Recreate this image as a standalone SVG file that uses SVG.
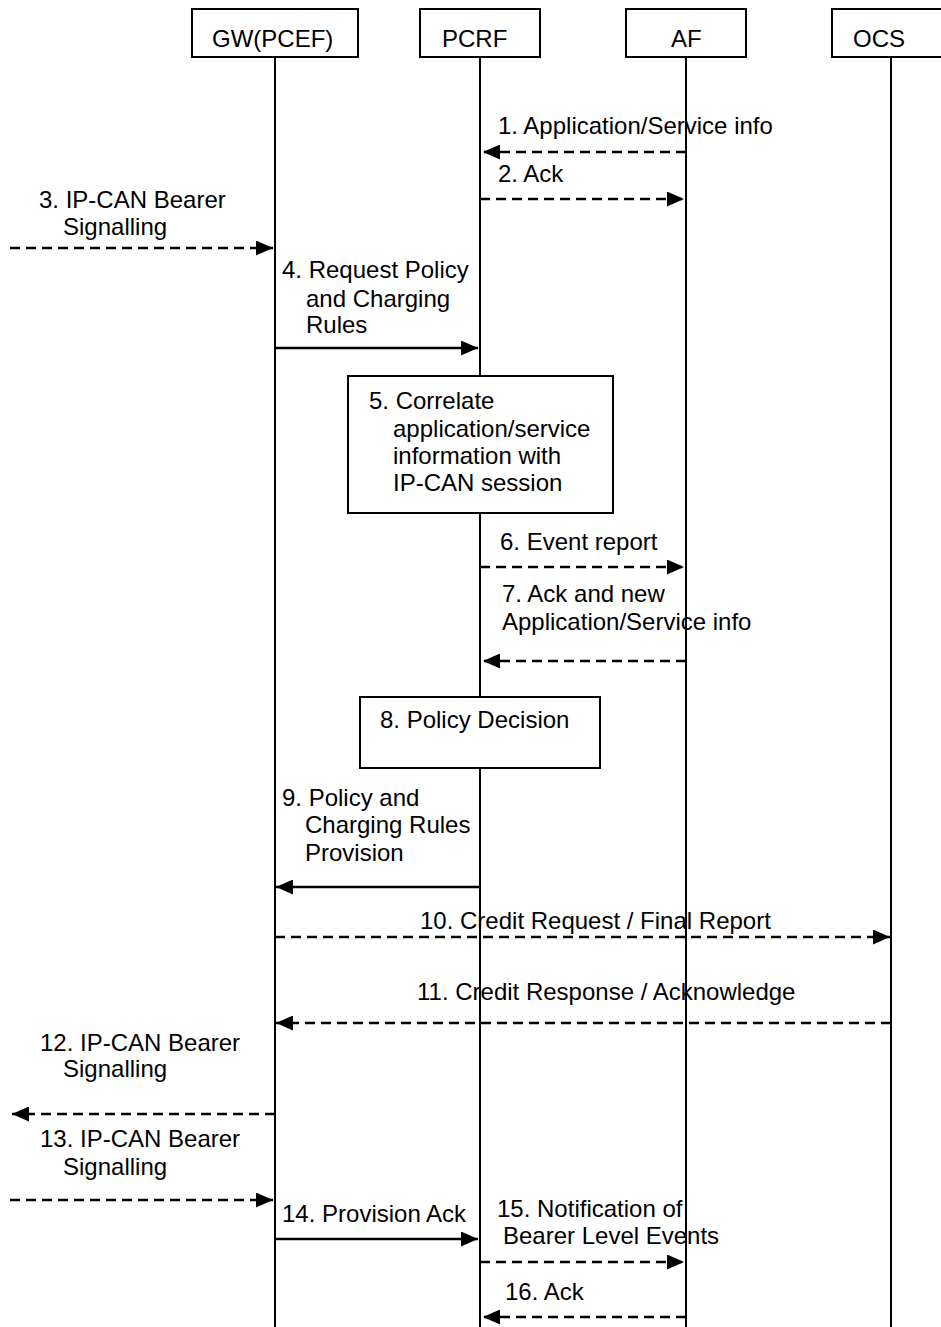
<svg xmlns="http://www.w3.org/2000/svg" width="941" height="1327" viewBox="0 0 941 1327">
<style>
text{font-family:"Liberation Sans",Arial,sans-serif;font-size:24px;fill:#000}
.box{fill:#fff;stroke:#000;stroke-width:2}
.life{stroke:#000;stroke-width:2;fill:none}
.msg{stroke:#000;stroke-width:2.5;fill:none;marker-end:url(#ah)}
.dash{stroke-dasharray:10,6}
</style>
<defs>
<marker id="ah" markerUnits="userSpaceOnUse" viewBox="0 0 17 15" refX="17" refY="7.5" markerWidth="17" markerHeight="15" orient="auto">
<path d="M0,0 L17,7.5 L0,15 z" fill="#000"/>
</marker>
</defs>
<rect width="941" height="1327" fill="#fff"/>
<g id="lifelines">
<line class="life" x1="275" y1="57" x2="275" y2="1327"/>
<line class="life" x1="480" y1="57" x2="480" y2="1327"/>
<line class="life" x1="686" y1="57" x2="686" y2="1327"/>
<line class="life" x1="891" y1="57" x2="891" y2="1327"/>
</g>
<g id="gw"><rect class="box" x="192" y="9" width="166" height="48"/><text x="212" y="47">GW(PCEF)</text></g>
<g id="pcrf"><rect class="box" x="420" y="9" width="120" height="48"/><text x="442" y="47">PCRF</text></g>
<g id="af"><rect class="box" x="626" y="9" width="120" height="48"/><text x="671" y="47">AF</text></g>
<g id="ocs"><rect class="box" x="832" y="9" width="120" height="48"/><text x="853" y="47">OCS</text></g>
<g id="step5"><rect class="box" x="348" y="376" width="265" height="137"/>
<text x="369" y="409">5. Correlate</text><text x="393" y="437">application/service</text><text x="393" y="464">information with</text><text x="393" y="491">IP-CAN session</text></g>
<g id="step8"><rect class="box" x="360" y="697" width="240" height="71"/><text x="380" y="728">8. Policy Decision</text></g>
<g id="connectors">
<line class="msg dash" x1="686" y1="152" x2="483" y2="152"/>
<line class="msg dash" x1="480" y1="199" x2="684" y2="199"/>
<line class="msg dash" x1="10" y1="248" x2="273" y2="248"/>
<line class="msg" x1="275" y1="348" x2="478" y2="348"/>
<line class="msg dash" x1="480" y1="567" x2="684" y2="567"/>
<line class="msg dash" x1="686" y1="661" x2="483" y2="661"/>
<line class="msg" x1="480" y1="887" x2="276" y2="887"/>
<line class="msg dash" x1="275" y1="937" x2="890" y2="937"/>
<line class="msg dash" x1="891" y1="1023" x2="276" y2="1023"/>
<line class="msg dash" x1="275" y1="1114" x2="12" y2="1114"/>
<line class="msg dash" x1="10" y1="1200" x2="273" y2="1200"/>
<line class="msg" x1="275" y1="1239" x2="478" y2="1239"/>
<line class="msg dash" x1="480" y1="1262" x2="684" y2="1262"/>
<line class="msg dash" x1="686" y1="1317" x2="483" y2="1317"/>
</g>
<g id="labels">
<text x="498" y="134">1. Application/Service info</text>
<text x="498" y="182">2. Ack</text>
<text x="39" y="208">3. IP-CAN Bearer</text><text x="63" y="235">Signalling</text>
<text x="282" y="278">4. Request Policy</text><text x="306" y="307">and Charging</text><text x="306" y="333">Rules</text>
<text x="500" y="550">6. Event report</text>
<text x="502" y="602">7. Ack and new</text><text x="502" y="630">Application/Service info</text>
<text x="282" y="806">9. Policy and</text><text x="305" y="833">Charging Rules</text><text x="305" y="861">Provision</text>
<text x="420" y="929">10. Credit Request / Final Report</text>
<text x="417" y="1000">11. Credit Response / Acknowledge</text>
<text x="40" y="1051">12. IP-CAN Bearer</text><text x="63" y="1077">Signalling</text>
<text x="40" y="1147">13. IP-CAN Bearer</text><text x="63" y="1175">Signalling</text>
<text x="282" y="1222">14. Provision Ack</text>
<text x="497" y="1217">15. Notification of</text><text x="503" y="1244">Bearer Level Events</text>
<text x="505" y="1300">16. Ack</text>
</g>
</svg>
